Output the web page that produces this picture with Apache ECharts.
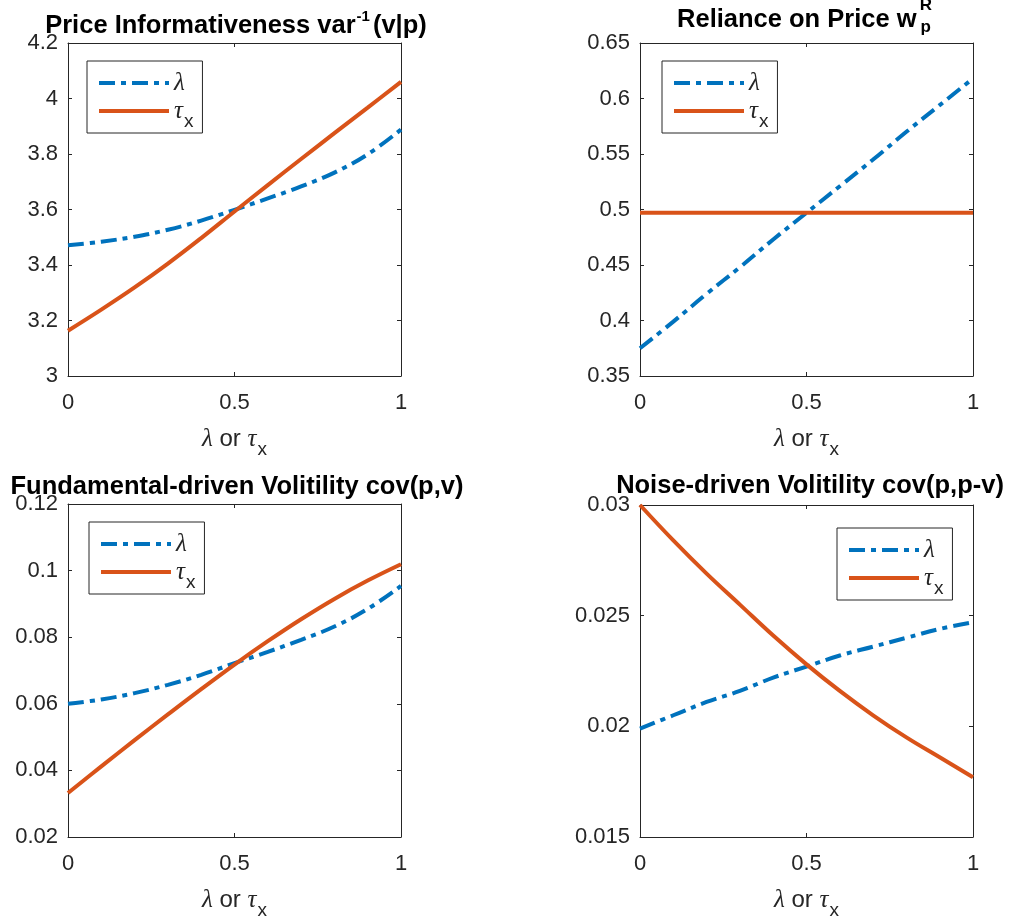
<!DOCTYPE html>
<html>
<head>
<meta charset="utf-8">
<script src="https://cdn.jsdelivr.net/npm/echarts@6/dist/echarts.min.js"></script>
<style>
  html, body { margin: 0; padding: 0; background: #fff; }
  #chart { width: 1010px; height: 924px; }
</style>
</head>
<body>
<div id="chart"></div>
<script>
// shared x grid (lambda or tau_x)
const xs = [0, 0.1, 0.2, 0.3, 0.4, 0.5, 0.6, 0.7, 0.8, 0.9, 1]
const xTicks = [0, 0.5, 1]

// Price Informativeness
const infoLambda = [3.471, 3.484, 3.502, 3.527, 3.560, 3.599, 3.640, 3.683, 3.733, 3.799, 3.888]
const infoTau = [3.163, 3.239, 3.319, 3.405, 3.497, 3.593, 3.688, 3.782, 3.875, 3.967, 4.060]
const infoTicks = [3, 3.2, 3.4, 3.6, 3.8, 4, 4.2]

// Reliance on Price
const relLambda = [0.375, 0.399, 0.424, 0.448, 0.473, 0.497, 0.521, 0.545, 0.570, 0.594, 0.618]
const relTau = [0.497, 0.497, 0.497, 0.497, 0.497, 0.497, 0.497, 0.497, 0.497, 0.497, 0.497]
const relTicks = [0.35, 0.4, 0.45, 0.5, 0.55, 0.6, 0.65]

// Fundamental-driven volatility
const fundLambda = [0.0600, 0.0613, 0.0632, 0.0657, 0.0687, 0.0722, 0.0756, 0.0792, 0.0832, 0.0885, 0.0954]
const fundTau = [0.0332, 0.0412, 0.0491, 0.0568, 0.0644, 0.0718, 0.0788, 0.0854, 0.0915, 0.0970, 0.1019]
const fundTicks = [0.02, 0.04, 0.06, 0.08, 0.1, 0.12]

// Noise-driven volatility
const noiseLambda = [0.0199, 0.0205, 0.0211, 0.0216, 0.0222, 0.0227, 0.0232, 0.0236, 0.0240, 0.0244, 0.0247]
const noiseTau = [0.0300, 0.0284, 0.0269, 0.0255, 0.0241, 0.0228, 0.0216, 0.0205, 0.0195, 0.0186, 0.0177]
const noiseTicks = [0.015, 0.02, 0.025, 0.03]

const BLUE = '#0072BD'
const ORANGE = '#D95319'
const INK = '#262626'
const SANS = '"Liberation Sans", Arial, Helvetica, sans-serif'
const SERIF = '"Liberation Serif", "DejaVu Serif", serif'

const panels = [
  { lambda: infoLambda, tau: infoTau, ticks: infoTicks, grid: { left: 68, top: 43, width: 333, height: 333 }, legend: { left: 87, top: 61 } },
  { lambda: relLambda, tau: relTau, ticks: relTicks, grid: { left: 640, top: 43, width: 333, height: 333 }, legend: { left: 662, top: 61 } },
  { lambda: fundLambda, tau: fundTau, ticks: fundTicks, grid: { left: 68, top: 504, width: 333, height: 333 }, legend: { left: 89, top: 522 } },
  { lambda: noiseLambda, tau: noiseTau, ticks: noiseTicks, grid: { left: 640, top: 505, width: 333, height: 332 }, legend: { left: 837, top: 528 } }
]

const greekRich = {
  g: { fontFamily: SERIF, fontStyle: 'italic', fontSize: 25, color: INK, lineHeight: 24, verticalAlign: 'top' },
  n: { fontFamily: SANS, fontSize: 24, color: INK, lineHeight: 24, verticalAlign: 'top' },
  s: { fontFamily: SANS, fontSize: 19, color: INK, lineHeight: 19, padding: [13, 0, 0, 1], verticalAlign: 'top' }
}

const round = v => Math.round(v * 1e6) / 1e6

const chart = echarts.init(document.getElementById('chart'))

const grids = []
const xAxes = []
const yAxes = []
const series = []
const legends = []

panels.forEach((p, i) => {
  grids.push(p.grid)
  const yMin = p.ticks[0]
  const yMax = p.ticks[p.ticks.length - 1]
  const yStep = round(p.ticks[1] - p.ticks[0])
  const xStep = round(xTicks[1] - xTicks[0])
  const line = { show: true, onZero: false, lineStyle: { color: INK, width: 1 } }
  const tick = { show: true, inside: true, length: 4, lineStyle: { color: INK } }

  xAxes.push({
    type: 'value', gridIndex: i, position: 'bottom',
    min: xTicks[0], max: xTicks[xTicks.length - 1], interval: xStep,
    axisLine: line, axisTick: tick, splitLine: { show: false },
    axisLabel: { color: INK, fontFamily: SANS, fontSize: 22, margin: 16 },
    name: '{g|λ}{n| or }{g|τ}{s|x}',
    nameLocation: 'middle', nameGap: 51,
    nameTextStyle: { rich: greekRich }
  })
  xAxes.push({
    type: 'value', gridIndex: i, position: 'top',
    min: xTicks[0], max: xTicks[xTicks.length - 1], interval: xStep,
    axisLine: line, axisTick: tick, axisLabel: { show: false }, splitLine: { show: false }
  })
  yAxes.push({
    type: 'value', gridIndex: i, position: 'left',
    min: yMin, max: yMax, interval: yStep,
    axisLine: line, axisTick: tick, splitLine: { show: false },
    axisLabel: { color: INK, fontFamily: SANS, fontSize: 22, margin: 10 }
  })
  yAxes.push({
    type: 'value', gridIndex: i, position: 'right',
    min: yMin, max: yMax, interval: yStep,
    axisLine: line, axisTick: tick, axisLabel: { show: false }, splitLine: { show: false }
  })

  series.push({
    name: 'lambda', type: 'line', xAxisIndex: 2 * i, yAxisIndex: 2 * i,
    data: xs.map((x, k) => [x, p.lambda[k]]),
    symbol: 'none', smooth: 0.4, silent: true,
    lineStyle: { color: BLUE, width: 4, type: [16, 6, 5, 6], cap: 'butt' },
    itemStyle: { color: BLUE }
  })
  series.push({
    name: 'tau', type: 'line', xAxisIndex: 2 * i, yAxisIndex: 2 * i,
    data: xs.map((x, k) => [x, p.tau[k]]),
    symbol: 'none', smooth: 0.4, silent: true,
    lineStyle: { color: ORANGE, width: 4 },
    itemStyle: { color: ORANGE }
  })

  legends.push({
    left: p.legend.left, top: p.legend.top,
    orient: 'vertical',
    data: ['lambda', 'tau'],
    selectedMode: false,
    backgroundColor: '#fff',
    borderColor: INK, borderWidth: 1, borderRadius: 0,
    padding: [10, 9, 2, 10],
    itemWidth: 70, itemHeight: 14, itemGap: 3,
    itemStyle: { opacity: 0, borderWidth: 0 },
    lineStyle: { width: 4, type: 'inherit' },
    formatter: name => (name === 'lambda' ? '{g|λ}' : '{g|τ}{s|x}'),
    textStyle: { rich: greekRich, padding: [0, 0, 0, 0] }
  })
})

const titleRich = {
  b: { fontFamily: SANS, fontWeight: 'bold', fontSize: 25.5, color: '#000', lineHeight: 26, verticalAlign: 'top', padding: [8, 0, 0, 0] },
  sup: { fontFamily: SANS, fontWeight: 'bold', fontSize: 15, color: '#000', lineHeight: 15, verticalAlign: 'top', padding: [4, 3, 0, 1] },
  sub: { fontFamily: SANS, fontWeight: 'bold', fontSize: 17, color: '#000', lineHeight: 17, verticalAlign: 'top', padding: [20, 0, 0, 4] },
  r: { fontFamily: SANS, fontWeight: 'bold', fontSize: 17, color: '#000', lineHeight: 17, verticalAlign: 'top' }
}

const titles = [
  { text: '{b|Price Informativeness var}{sup|-1}{b|(v|p)}', left: 236, top: 5 },
  { text: '{b|Reliance on Price w}{sub|p}', left: 804, top: -1 },
  { text: '{r|R}', left: 926, top: -3 },
  { text: '{b|Fundamental-driven Volitility cov(p,v)}', left: 237, top: 466 },
  { text: '{b|Noise-driven Volitility cov(p,p-v)}', left: 810, top: 465 }
].map(t => ({
  text: t.text, left: t.left, top: t.top, textAlign: 'center', padding: 0,
  textStyle: { rich: titleRich }
}))

const option = {
  animation: false,
  backgroundColor: '#fff',
  title: titles,
  grid: grids,
  xAxis: xAxes,
  yAxis: yAxes,
  legend: legends,
  series: series
}

chart.setOption(option)
</script>
</body>
</html>
